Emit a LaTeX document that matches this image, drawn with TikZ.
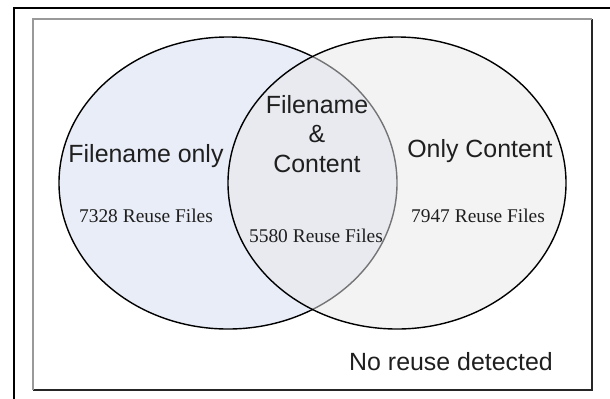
\documentclass[tikz,border=0pt]{standalone}
\usepackage{fontspec}
\setmainfont{Liberation Serif}
\setsansfont{Liberation Sans}
\begin{document}
\begin{tikzpicture}[x=1bp,y=-1bp,
	setlabel/.style={font=\sffamily\fontsize{25}{30}\selectfont, text=black!88, anchor=base, inner sep=0pt},
	countlabel/.style={font=\fontsize{19.5}{22}\selectfont, text=black!88, anchor=base, inner sep=0pt}]
	\useasboundingbox (0,0) rectangle (610,398);
	\clip (0,0) rectangle (610,398);
		% frame
		\draw[line width=2.6bp] (14,8) rectangle (640,430);
		\draw[line width=1.4bp, black!85] (33,390) -- (592,390) -- (592,19);
		\draw[line width=1.4bp, gray!80] (592,19) -- (33,19) -- (33,390);

	% the two sets
	\draw[line width=1.4bp, fill={rgb,255:red,233;green,237;blue,247}] (228,183) ellipse (169bp and 146bp);
	\draw[line width=1.4bp, fill={rgb,255:red,232;green,232;blue,232}, fill opacity=0.5] (397,183) ellipse (169bp and 146bp);

	\node[setlabel] (fonly) at (146,162) {Filename only};
	\node[countlabel] (fcount) at (146,222) {7328 Reuse Files};
	\node[setlabel] (both1) at (317,113) {Filename};
	\node[setlabel] (both2) at (317,142) {\&};
	\node[setlabel] (both3) at (317,172) {Content};
	\node[countlabel] (bcount) at (316,242) {5580 Reuse Files};
	\node[setlabel] (conly) at (480,157) {Only Content};
	\node[countlabel] (ccount) at (478,222) {7947 Reuse Files};
	\node[setlabel] (none) at (451,370) {No reuse detected};
		\end{tikzpicture}
\end{document}
